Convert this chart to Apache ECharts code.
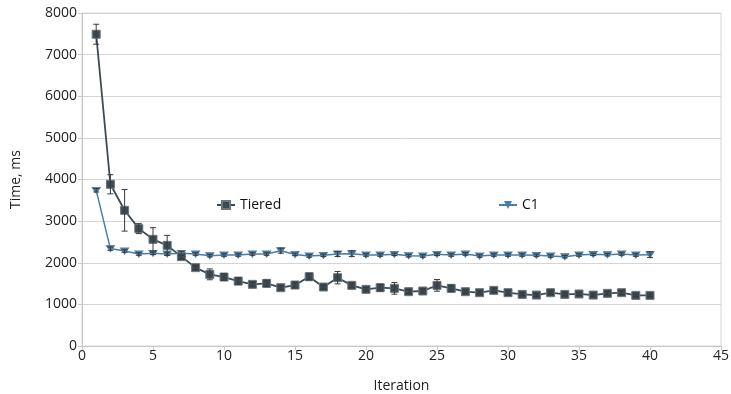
<!DOCTYPE html>
<html>
<head>
<meta charset="utf-8">
<script src="https://cdn.jsdelivr.net/npm/echarts@6/dist/echarts.min.js"></script>
<style>
  html, body { margin: 0; padding: 0; background: #fff; }
  #chart { width: 731px; height: 394px; }
</style>
</head>
<body>
<div id="chart"></div>
<script>
// iterations 1..40
var iterations = [];
for (var i = 1; i <= 40; i++) iterations.push(i);

var tieredTime = [7490, 3885, 3260, 2820, 2563, 2418, 2147, 1882, 1721, 1657,
  1560, 1481, 1505, 1401, 1465, 1665, 1417, 1641, 1457, 1361,
  1401, 1385, 1305, 1321, 1457, 1385, 1305, 1281, 1337, 1281,
  1240, 1224, 1281, 1240, 1250, 1224, 1265, 1281, 1216, 1216];
var tieredErr = [240, 230, 500, 120, 280, 240, 60, 50, 130, 80,
  80, 50, 80, 50, 70, 80, 50, 150, 60, 40,
  80, 140, 50, 50, 140, 80, 40, 40, 50, 60,
  30, 30, 40, 30, 30, 30, 40, 50, 30, 30];

var c1Time = [3740, 2340, 2281, 2210, 2226, 2210, 2226, 2210, 2170, 2186,
  2186, 2210, 2210, 2290, 2200, 2162, 2178, 2210, 2218, 2186,
  2186, 2202, 2170, 2162, 2202, 2186, 2210, 2162, 2186, 2186,
  2186, 2178, 2162, 2146, 2186, 2202, 2194, 2210, 2186, 2194];
var c1Err = [40, 40, 30, 30, 30, 30, 50, 30, 30, 30,
  30, 30, 30, 60, 30, 30, 30, 60, 70, 30,
  30, 30, 30, 30, 30, 30, 30, 30, 30, 30,
  30, 30, 30, 30, 30, 30, 30, 30, 30, 70];

var tieredColor = "#3c4a53";
var c1Color = "#4a7ea6";

function pairs(ys) {
  return iterations.map(function (x, k) { return [x, ys[k]]; });
}
function errRows(ys, es) {
  return iterations.map(function (x, k) { return [x, ys[k] - es[k], ys[k] + es[k]]; });
}

// error bars: vertical whisker with small caps
function errorBar(params, api) {
  var lo = api.coord([api.value(0), api.value(1)]);
  var hi = api.coord([api.value(0), api.value(2)]);
  var cap = 3;
  var style = { stroke: "#3a3a3a", lineWidth: 1 };
  return {
    type: "group",
    children: [
      { type: "line", shape: { x1: lo[0], y1: lo[1], x2: hi[0], y2: hi[1] }, style: style },
      { type: "line", shape: { x1: lo[0] - cap, y1: lo[1], x2: lo[0] + cap, y2: lo[1] }, style: style },
      { type: "line", shape: { x1: hi[0] - cap, y1: hi[1], x2: hi[0] + cap, y2: hi[1] }, style: style }
    ]
  };
}

var chart = echarts.init(document.getElementById("chart"));
var font = "Open Sans";

chart.setOption({
  animation: false,
  textStyle: { fontFamily: font },
  grid: {
    left: 82, right: 10, top: 13, bottom: 48,
    outerBoundsMode: "none", containLabel: false,
    show: true, borderColor: "#d4d4d4", borderWidth: 1
  },
  legend: [
    {
      data: ["Tiered"], left: 211, top: 193, itemWidth: 18, itemHeight: 10, itemGap: 6,
      textStyle: { fontFamily: font, fontSize: 14, color: "#111" }
    },
    {
      data: ["C1"], left: 493, top: 193, itemWidth: 18, itemHeight: 10,
      textStyle: { fontFamily: font, fontSize: 14, color: "#111" }
    }
  ],
  xAxis: {
    type: "value", min: 0, max: 45, interval: 5,
    name: "Iteration", nameLocation: "middle", nameGap: 33,
    nameTextStyle: { fontSize: 14, color: "#222", fontFamily: font },
    axisLine: { show: true, lineStyle: { color: "#c8c8c8" } },
    axisTick: { show: true, length: 4, lineStyle: { color: "#c8c8c8" } },
    axisLabel: { fontSize: 14, color: "#222", margin: 3 },
    splitLine: { show: false }
  },
  yAxis: {
    type: "value", min: 0, max: 8000, interval: 1000,
    name: "Time, ms", nameLocation: "middle", nameGap: 59, nameRotate: 90,
    nameTextStyle: { fontSize: 14, color: "#222", fontFamily: font },
    axisLine: { show: true, lineStyle: { color: "#c8c8c8" } },
    axisTick: { show: true, length: 4, lineStyle: { color: "#c8c8c8" } },
    axisLabel: { fontSize: 14, color: "#222", margin: 5, formatter: function (v) { return String(v); } },
    splitLine: { show: true, lineStyle: { color: "#d4d4d4" } }
  },
  series: [
    {
      name: "Tiered", type: "line", data: pairs(tieredTime),
      symbol: "rect", symbolSize: 8, showAllSymbol: true,
      lineStyle: { color: tieredColor, width: 1.8 },
      itemStyle: { color: tieredColor, borderColor: "#6b767d", borderWidth: 1 },
      z: 3
    },
    {
      name: "C1", type: "line", data: pairs(c1Time),
      symbol: "triangle", symbolRotate: 180, symbolSize: [8, 6], showAllSymbol: true,
      lineStyle: { color: c1Color, width: 1.5 },
      itemStyle: { color: c1Color, borderColor: c1Color },
      z: 3
    },
    {
      type: "custom", data: errRows(tieredTime, tieredErr), renderItem: errorBar,
      encode: { x: 0, y: [1, 2] }, z: 4, silent: true
    },
    {
      type: "custom", data: errRows(c1Time, c1Err), renderItem: errorBar,
      encode: { x: 0, y: [1, 2] }, z: 4, silent: true
    }
  ]
});
</script>
</body>
</html>
